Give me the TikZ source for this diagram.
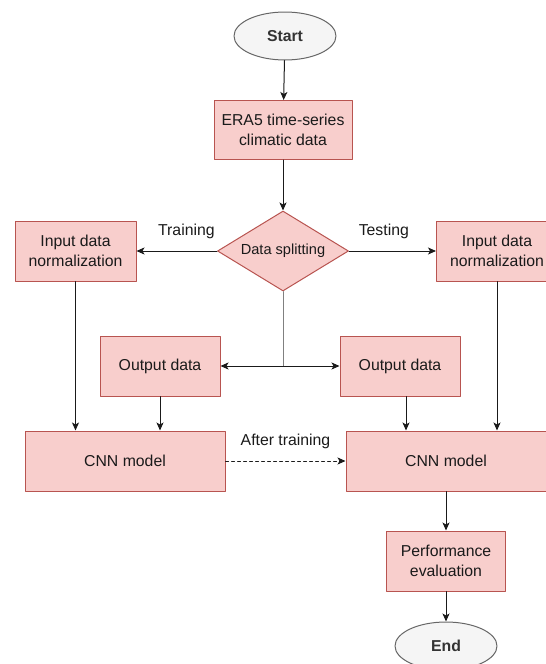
\documentclass[tikz,border=0pt]{standalone}
\usepackage{fontspec}
\setmainfont{Liberation Sans}
\usetikzlibrary{shapes.geometric, arrows.meta}
\definecolor{boxfill}{HTML}{F8CECC}
\definecolor{boxline}{HTML}{B85450}
\definecolor{termfill}{HTML}{F5F5F5}
\definecolor{termline}{HTML}{666666}
\definecolor{txt}{HTML}{1A1A1A}
\begin{document}
\begin{tikzpicture}[x=0.5pt, y=-0.5pt, font=\fontsize{7.9}{10}\selectfont, line cap=round, line join=round, >={Stealth[length=4pt, width=3.5pt, inset=1pt]},
  box/.style={draw=boxline, fill=boxfill, text=txt, align=center, inner sep=0pt, line width=0.5pt, minimum height=30pt},
  term/.style={ellipse, draw=termline, fill=termfill, text=black!80, font=\fontsize{7.9}{10}\selectfont\bfseries, inner sep=0pt, line width=0.5pt, minimum width=51pt, minimum height=24pt},
  split/.style={diamond, aspect=1.64, draw=boxline, fill=boxfill, text=txt, inner sep=0pt, line width=0.5pt, minimum width=65.5pt, minimum height=40pt, font=\fontsize{7.3}{9}\selectfont},
  link/.style={line width=0.5pt, txt}]
\useasboundingbox (0,0) rectangle (546,664);
% nodes
\node[term] (start) at (285,36) {Start};
\node[box, minimum width=69pt, minimum height=29.5pt] (era) at (283,130) {ERA5 time-series\\climatic data};
\node[split] (splitting) at (283,251) {Data splitting};
\node[box, minimum width=60.5pt] (intrain) at (75.5,251) {Input data\\normalization};
\node[box, minimum width=60.5pt] (intest) at (497,251) {Input data\\normalization};
\node[box, minimum width=60pt] (outtrain) at (160,366) {Output data};
\node[box, minimum width=60pt] (outtest) at (400,366) {Output data};
\node[box, minimum width=100pt] (cnntrain) at (125,461) {CNN model};
\node[box, minimum width=100pt] (cnntest) at (446,461) {CNN model};
\node[box, minimum width=59.5pt] (perf) at (446,561) {Performance\\evaluation};
\node[term] (finish) at (446,646) {End};
% connectors
\draw[link,->] (start)--(era);
\draw[link,->] (era)--(splitting);
\draw[link,->] (splitting)--node[pos=.38, yshift=10pt]{Training}(intrain);
\draw[link,->] (splitting)--node[pos=.4, yshift=10pt]{Testing}(intest);
\draw[line width=0.5pt, black!50] (splitting.south)--(splitting.south |- outtrain.east);
\draw[link,<->] (outtrain)--(outtest);
\draw[link,->] (intrain)--(intrain |- cnntrain.north);
\draw[link,->] (outtrain)--(outtrain |- cnntrain.north);
\draw[link,->] ([xshift=3pt]outtest.south)--([xshift=3pt]outtest.south |- cnntest.north);
\draw[link,->] (intest)--(intest |- cnntest.north);
\draw[link,->, dash pattern=on 1.5pt off 1.5pt] (cnntrain)--node[pos=.5, yshift=10pt]{After training}(cnntest);
\draw[link,->] (cnntest)--(perf);
\draw[link,->] (perf)--(finish);
\end{tikzpicture}
\end{document}
